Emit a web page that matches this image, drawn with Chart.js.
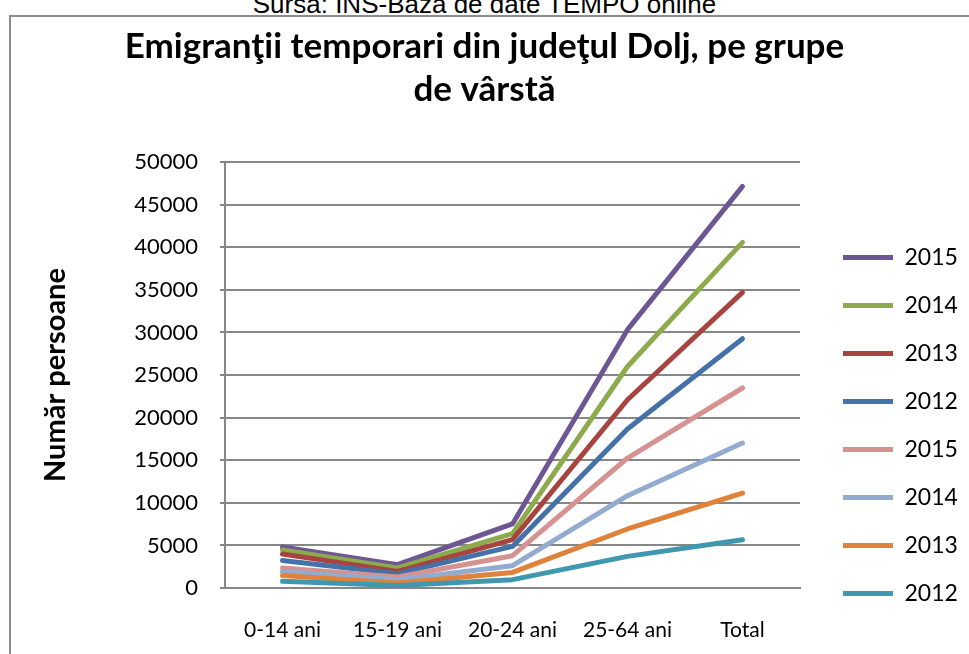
<!DOCTYPE html>
<html>
<head>
  <script src="https://cdn.jsdelivr.net/npm/chart.js"></script>
  <title>Emigranţii temporari din judeţul Dolj</title>
  <style>
    body { margin: 0; background: #fff; }
    #wrap { position: relative; width: 969px; height: 654px; overflow: hidden; }
    #frame { position: absolute; left: 9px; top: 15px; width: 1000px; height: 700px; border: 2px solid #8c8c8c; box-sizing: border-box; }
    #source { position: absolute; left: 0; top: -9px; width: 969px; text-align: center; font-family: "Liberation Sans", Arial, sans-serif; font-size: 26px; line-height: 26px; color: #000; }
    canvas { position: absolute; left: 0; top: 0; }
  </style>
</head>
<body>
  <div id="wrap">
    <div id="frame"></div>
    <div id="source">Sursa: INS-Baza de date TEMPO online</div>
    <canvas id="chart" width="969" height="654"></canvas>
  </div>

  <script>
    // categories on the x axis
    const categories = ['0-14 ani', '15-19 ani', '20-24 ani', '25-64 ani', 'Total'];

    // series names, bottom of the stack first
    const seriesNames = ['2012', '2013', '2014', '2015', '2012', '2013', '2014', '2015'];

    // values (stacked lines, each series adds on the one below)
    const s2012a = [780, 300, 980, 3710, 5670];
    const s2013a = [700, 290, 850, 3220, 5480];
    const s2014a = [470, 390, 790, 3910, 5870];
    const s2015a = [400, 310, 1170, 4420, 6460];
    const s2012b = [890, 390, 1090, 3410, 5790];
    const s2013b = [750, 270, 790, 3430, 5430];
    const s2014b = [470, 400, 710, 3900, 5870];
    const s2015b = [350, 390, 1140, 4330, 6580];

    const yTicks = [0, 5000, 10000, 15000, 20000, 25000, 30000, 35000, 40000, 45000, 50000];

    const seriesValues = [s2012a, s2013a, s2014a, s2015a, s2012b, s2013b, s2014b, s2015b];
    const seriesColors = ['#3f98af', '#e0823a', '#93abd1', '#d69290', '#4472a8', '#a8443f', '#8dab4c', '#6d5694'];

    const font = 'Lato, "Open Sans", sans-serif';
    const gridColor = '#878787';

    // legend: fixed width on the right, items placed where they sit in the picture
    const legendPlace = {
      id: 'legendPlace',
      afterInit(chart) {
        const fit = chart.legend.fit;
        chart.legend.fit = function () {
          fit.call(this);
          this.width = 169;
        };
      },
      afterLayout(chart) {
        const lg = chart.legend;
        lg.left = 818;
        lg.right = 969;
        lg.top = 221;
        lg.bottom = 654;
      }
    };

    let ctx = document.getElementById('chart').getContext('2d');
    new Chart(ctx, {
      type: 'line',
      data: {
        labels: categories,
        datasets: seriesValues.map((vals, i) => ({
          label: seriesNames[i],
          data: vals,
          borderColor: seriesColors[i],
          backgroundColor: seriesColors[i],
          borderWidth: 5,
          borderCapStyle: 'round',
          borderJoinStyle: 'round',
          pointRadius: 0,
          tension: 0,
          fill: false
        }))
      },
      options: {
        responsive: false,
        animation: false,
        layout: { padding: 0 },
        plugins: {
          title: {
            display: true,
            text: ['Emigranţii temporari din judeţul Dolj, pe grupe', 'de vârstă'],
            color: '#000',
            font: { family: font, size: 35, weight: 'bold', lineHeight: 1.23 },
            padding: { top: 25, bottom: 51 }
          },
          legend: {
            position: 'right',
            align: 'start',
            reverse: true,
            labels: {
              boxWidth: 50,
              boxHeight: 5,
              padding: 25,
              color: '#000',
              font: { family: font, size: 23 },
              generateLabels(chart) {
                const items = Chart.defaults.plugins.legend.labels.generateLabels(chart);
                return items.map(it => Object.assign(it, { lineWidth: 0, fillStyle: it.strokeStyle }));
              }
            }
          },
          tooltip: { enabled: false }
        },
        scales: {
          x: {
            offset: true,
            grid: { display: false, drawTicks: false },
            border: { color: gridColor, width: 2 },
            ticks: { color: '#000', font: { family: font, size: 21 }, padding: 30, maxRotation: 0, autoSkip: false },
            afterFit(s) { s.height = 66; }
          },
          y: {
            stacked: true,
            min: 0,
            max: 50000,
            afterBuildTicks(s) { s.ticks = yTicks.map(v => ({ value: v })); },
            ticks: { color: '#000', font: { family: font, size: 22 }, padding: 22, callback: v => String(v) },
            grid: { color: gridColor, lineWidth: 2, tickLength: 5 },
            border: { color: gridColor, width: 2 },
            title: {
              display: true,
              text: 'Număr persoane',
              color: '#000',
              font: { family: font, size: 29, weight: 'bold', lineHeight: 1.2 },
              padding: { top: 38, bottom: 0 }
            },
            afterFit(s) { s.width = 225; }
          }
        }
      },
      plugins: [legendPlace]
    });
  </script>
</body>
</html>
